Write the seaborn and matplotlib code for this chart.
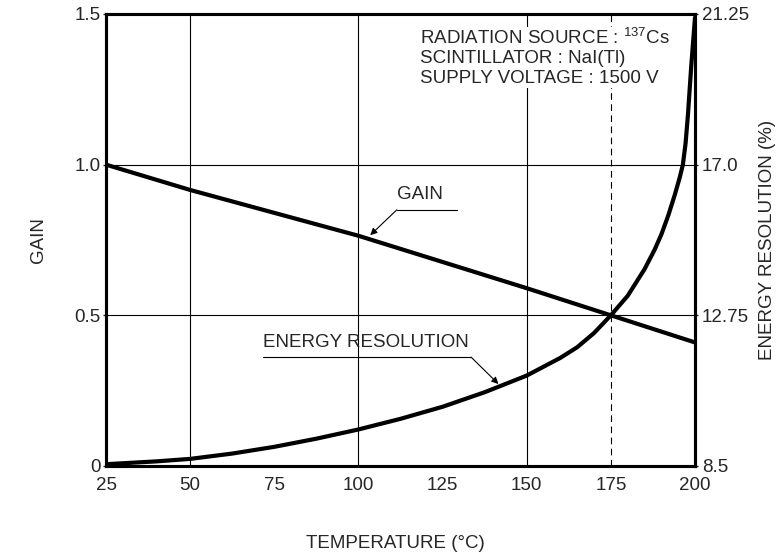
import matplotlib
matplotlib.use("Agg")
import matplotlib.pyplot as plt
import seaborn as sns
import pandas as pd

# ---- data ----
gain_temp = [25, 50, 75, 100, 125, 150, 175, 200]
gain_vals = [1.0, 0.916, 0.84, 0.764, 0.677, 0.59, 0.5, 0.41]

res_temp = [25, 40, 50, 62.5, 75, 87.5, 100, 112.5, 125, 137.5, 150, 160, 165,
            170, 175, 180, 185, 188, 190, 192, 194, 195.5, 196.4, 197.2, 197.9,
            198.9, 200]
res_vals = [8.55, 8.63, 8.70, 8.85, 9.04, 9.27, 9.53, 9.83, 10.17, 10.58, 11.05,
            11.55, 11.85, 12.25, 12.75, 13.3, 14.05, 14.6, 15.03, 15.55, 16.15,
            16.65, 17.0, 17.6, 18.4, 19.8, 21.15]

x_ticks = [25, 50, 75, 100, 125, 150, 175, 200]
gain_ticks = [0, 0.5, 1.0, 1.5]
gain_ticklabels = ["0", "0.5", "1.0", "1.5"]
res_ticks = [8.5, 12.75, 17.0, 21.25]
res_ticklabels = ["8.5", "12.75", "17.0", "21.25"]
grid_x_solid = [50, 100, 150]
grid_x_dashed = [175]
grid_y = [0.5, 1.0]

sns.set_style("white")
plt.rcParams["font.family"] = ["Liberation Sans", "DejaVu Sans"]
plt.rcParams["mathtext.fontset"] = "custom"
plt.rcParams["mathtext.rm"] = "Liberation Sans"
plt.rcParams["mathtext.it"] = "Liberation Sans:italic"
plt.rcParams["mathtext.bf"] = "Liberation Sans:bold"

FS = 13.5
fig = plt.figure(figsize=(7.83, 5.6), dpi=100)
ax = fig.add_axes([0.1354, 0.1679, 0.7522, 0.8071])
ax2 = ax.twinx()

# grid
for gx in grid_x_solid:
    ax.axvline(gx, color="black", lw=0.8, zorder=1)
for gx in grid_x_dashed:
    ax.axvline(gx, color="black", lw=0.8, ls=(0, (6, 4)), zorder=1)
for gy in grid_y:
    ax.axhline(gy, color="black", lw=0.8, zorder=1)

gdf = pd.DataFrame({"temp": gain_temp, "gain": gain_vals})
rdf = pd.DataFrame({"temp": res_temp, "res": res_vals})
sns.lineplot(data=gdf, x="temp", y="gain", ax=ax, color="black", lw=3, zorder=3)
sns.lineplot(data=rdf, x="temp", y="res", ax=ax2, color="black", lw=3, zorder=3)

ax.set_xlim(25, 200)
ax.set_ylim(0, 1.5)
ax2.set_ylim(8.5, 21.25)
ax.set_xticks(x_ticks)
ax.set_xticklabels([str(t) for t in x_ticks], fontsize=FS)
ax.set_yticks(gain_ticks)
ax.set_yticklabels(gain_ticklabels, fontsize=FS)
ax2.set_yticks(res_ticks)
ax2.set_yticklabels(res_ticklabels, fontsize=FS)
ax.tick_params(axis="x", length=2, width=1, pad=6, direction="out")
ax.tick_params(axis="y", length=2, width=1, pad=2, direction="out")
ax2.tick_params(axis="y", length=2, width=1, pad=3, direction="out")

for a in (ax, ax2):
    for s in a.spines.values():
        s.set_linewidth(2.2)
        s.set_color("black")

ax.set_xlabel("")
ax.set_ylabel("")
ax2.set_ylabel("")
fig.text(0.049, 0.572, "GAIN", rotation=90, ha="center", va="center", fontsize=FS)
fig.text(0.980, 0.572, "ENERGY RESOLUTION (%)", rotation=90, ha="center", va="center", fontsize=FS)
fig.text(0.505, 0.030, "TEMPERATURE (°C)", ha="center", va="center", fontsize=FS)

# conditions text
fig.text(0.537, 0.950, "RADIATION SOURCE : $^{137}$Cs\nSCINTILLATOR : NaI(Tl)\nSUPPLY VOLTAGE : 1500 V",
         ha="left", va="top", fontsize=FS, linespacing=1.18, zorder=5,
         bbox=dict(facecolor="white", edgecolor="none", pad=1))

# GAIN callout
ax.plot([111.4, 129.3], [0.85, 0.85], color="black", lw=0.8, zorder=4)
ax.annotate("", xy=(103.5, 0.766), xytext=(111.4, 0.85),
            arrowprops=dict(arrowstyle="-|>", color="black", lw=0.8,
                            mutation_scale=10, shrinkA=0, shrinkB=0), zorder=4)
ax.text(118.3, 0.873, "GAIN", ha="center", va="bottom", fontsize=FS)

# ENERGY RESOLUTION callout
ax.plot([71.5, 133.5], [0.361, 0.361], color="black", lw=0.8, zorder=4)
ax.annotate("", xy=(141.6, 0.272), xytext=(133.5, 0.361),
            arrowprops=dict(arrowstyle="-|>", color="black", lw=0.8,
                            mutation_scale=10, shrinkA=0, shrinkB=0), zorder=4)
ax.text(71.5, 0.383, "ENERGY RESOLUTION", ha="left", va="bottom", fontsize=FS)

fig.savefig("out.png", dpi=100)
